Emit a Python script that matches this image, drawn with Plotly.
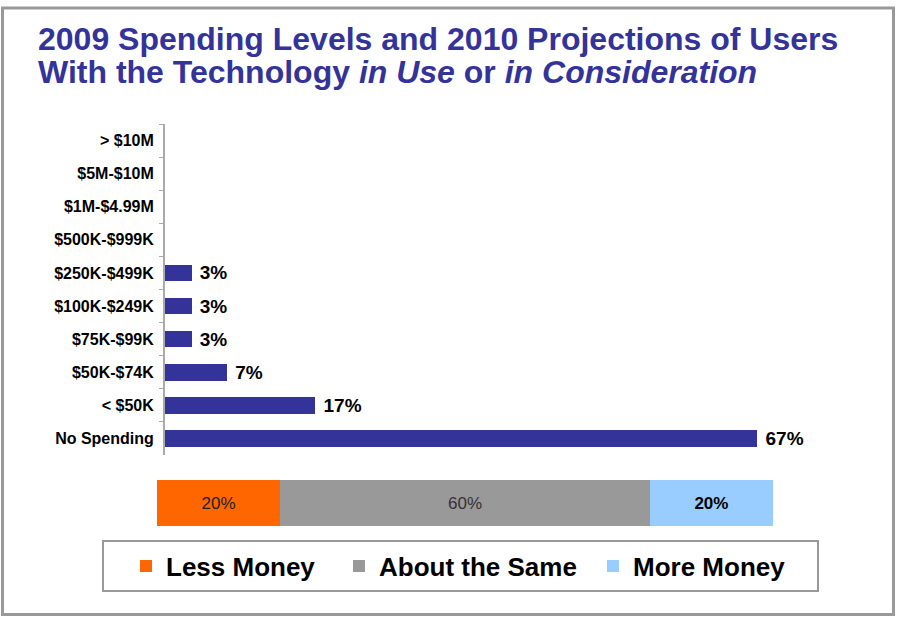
import plotly.graph_objects as go

W, H = 899, 621

# ---- data ----
categories = ["> $10M", "$5M-$10M", "$1M-$4.99M", "$500K-$999K", "$250K-$499K",
              "$100K-$249K", "$75K-$99K", "$50K-$74K", "< $50K", "No Spending"]
spending_pct = [0, 0, 0, 0, 3, 3, 3, 7, 17, 67]

projection_names = ["Less Money", "About the Same", "More Money"]
projection_pct = [20, 60, 20]
projection_colors = ["#FF6600", "#999999", "#99CCFF"]

title_line1 = "2009 Spending Levels and 2010 Projections of Users"
title_line2 = "With the Technology <i>in Use</i> or <i>in Consideration</i>"

FONT = "Liberation Sans, Arial, sans-serif"
NAVY = "#333399"

def px_x(p):
    return p / W

def px_y(p):
    return 1 - p / H

fig = go.Figure()

fig.add_trace(go.Bar(
    y=categories, x=spending_pct, orientation="h",
    marker=dict(color=NAVY, line=dict(width=0)),
    width=0.5,
    text=[f" {v}%" if v else "" for v in spending_pct],
    textposition="outside", constraintext="none", cliponaxis=False,
    textfont=dict(family=FONT, size=19, color="black", weight="bold"),
    showlegend=False, hoverinfo="skip",
    xaxis="x", yaxis="y",
))

text_styles = [dict(color="#222222", weight="normal"),
               dict(color="#333333", weight="normal"),
               dict(color="#000000", weight="bold")]
legend_ids = ["legend", "legend2", "legend3"]
for name, val, col, ts, lg in zip(projection_names, projection_pct, projection_colors,
                                  text_styles, legend_ids):
    fig.add_trace(go.Bar(
        y=["proj"], x=[val], orientation="h", name=name,
        marker=dict(color=col, line=dict(width=0)),
        width=1,
        text=[f"{val}%"], textposition="inside", insidetextanchor="middle",
        constraintext="none",
        textfont=dict(family=FONT, size=17, color=ts["color"], weight=ts["weight"]),
        hoverinfo="skip", legend=lg,
        xaxis="x2", yaxis="y2",
    ))

legend_font = dict(family=FONT, size=26, color="black", weight="bold")
def legend_at(xpx):
    return dict(orientation="h", x=px_x(xpx), xanchor="left", y=px_y(566), yanchor="middle",
                bgcolor="rgba(0,0,0,0)", borderwidth=0, font=legend_font)

fig.update_layout(
    width=W, height=H,
    margin=dict(l=0, r=0, t=0, b=0),
    paper_bgcolor="white", plot_bgcolor="rgba(0,0,0,0)",
    barmode="stack",
    font=dict(family=FONT, color="black"),
    xaxis=dict(domain=[px_x(165), px_x(820)], range=[0, 74.1], visible=False, fixedrange=True),
    yaxis=dict(domain=[px_y(455), px_y(124)], type="category", autorange="reversed",
               showline=True, linecolor="#aaaaaa", linewidth=2,
               ticks="outside", ticklen=4, tickcolor="#aaaaaa", tickwidth=1,
               tickson="boundaries", ticklabelstandoff=6,
               tickfont=dict(family=FONT, size=16, color="black", weight="bold"),
               showgrid=False, zeroline=False, anchor="x"),
    xaxis2=dict(domain=[px_x(157), px_x(773)], range=[0, 100], visible=False, anchor="y2"),
    yaxis2=dict(domain=[px_y(526), px_y(480)], range=[-0.5, 0.5], visible=False, anchor="x2"),
    showlegend=True,
    legend=legend_at(126),
    legend2=legend_at(339),
    legend3=legend_at(593),
    shapes=[
        dict(type="rect", xref="paper", yref="paper",
             x0=px_x(2.5), x1=px_x(893.5), y0=px_y(614.5), y1=px_y(8),
             line=dict(color="#999999", width=3), fillcolor="rgba(0,0,0,0)"),
        dict(type="rect", xref="paper", yref="paper",
             x0=px_x(103), x1=px_x(818), y0=px_y(591), y1=px_y(541),
             line=dict(color="#999999", width=2), fillcolor="rgba(0,0,0,0)", layer="below"),
    ],
    annotations=[
        dict(text=f"<b>{title_line1}</b>", xref="paper", yref="paper",
             x=px_x(36), y=px_y(19), xanchor="left", yanchor="top", showarrow=False,
             font=dict(family=FONT, size=32, color=NAVY)),
        dict(text=f"<b>{title_line2}</b>", xref="paper", yref="paper",
             x=px_x(36), y=px_y(52), xanchor="left", yanchor="top", showarrow=False,
             font=dict(family=FONT, size=32, color=NAVY)),
    ],
)

fig.write_html("out.html", config=dict(displayModeBar=False),
               post_script="document.body.style.margin='0px';document.body.style.overflow='hidden';")
